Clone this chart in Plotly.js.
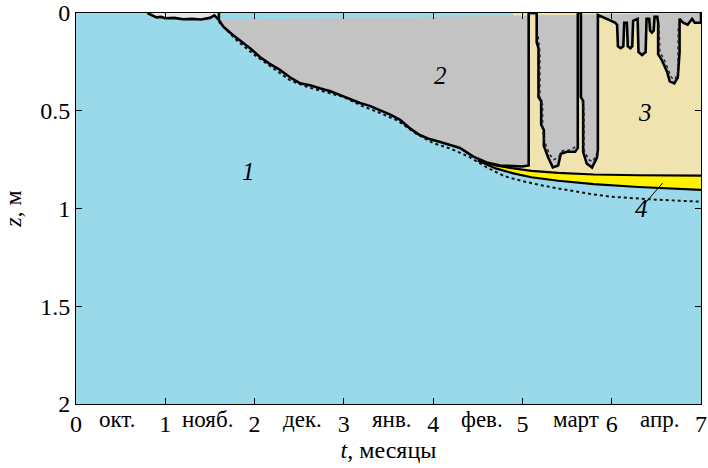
<!DOCTYPE html>
<html>
<head>
<meta charset="utf-8">
<script src="https://cdn.plot.ly/plotly-3.0.1.min.js"></script>
</head>
<body style="margin:0">
<div id="chart" style="width:708px;height:468px"></div>
<script>
// x tick labels (months since start) and month names
const xTickVals = [0, 1, 2, 3, 4, 5, 6, 7];
const yTickVals = [0, 0.5, 1, 1.5, 2];
const yTickText = ['0', '0.5', '1', '1.5', '2'];
const monthLabels = ['окт.', 'нояб.', 'дек.', 'янв.', 'фев.', 'март', 'апр.'];
const monthPos = [0.46, 1.47, 2.54, 3.54, 4.55, 5.6, 6.53];

// early thin ice strip near the surface: t (months), z (m)
const thinT = [0.8,0.85,0.9,0.95,1.0,1.1,1.2,1.3,1.4,1.5,1.55,1.6,1.6];
const thinZ = [0,0.012,0.022,0.02,0.027,0.025,0.032,0.03,0.033,0.025,0.012,0.035,0];

// region 2 (grey) outline: t (months), z (m)
const iceT = [1.6,1.65,1.75,1.84,1.95,2.06,2.17,2.28,2.4,2.51,2.62,2.73,2.85,2.96,3.07,3.18,3.29,3.4,3.52,3.63,3.74,3.85,3.96,4.08,4.19,4.3,4.45,4.6,4.75,4.9,5.0,5.07,5.07,5.16,
  5.16,5.18,5.18,5.21,5.21,5.24,5.24,5.29,5.34,5.4,5.43,5.5,5.59,5.62,5.62,5.655,
  5.655,5.68,5.68,5.72,5.78,5.835,5.845,5.845,
  5.9,5.97,6.04,6.06,6.07,6.1,6.13,6.14,6.17,6.18,6.21,6.23,6.24,6.29,6.3,6.34,6.38,6.39,6.42,6.43,6.45,6.47,6.48,6.51,
  6.52,6.52,6.56,6.62,6.65,6.7,6.74,6.76,6.76,6.8,6.85,6.9,6.93,7.0,7.0];
const iceZ = [0.035,0.07,0.11,0.14,0.18,0.225,0.26,0.29,0.33,0.36,0.37,0.385,0.4,0.42,0.44,0.46,0.475,0.495,0.52,0.547,0.59,0.624,0.645,0.66,0.675,0.69,0.735,0.765,0.78,0.785,0.785,0.78,0,0,
  0.15,0.18,0.43,0.45,0.57,0.6,0.68,0.74,0.79,0.78,0.72,0.71,0.71,0.69,0,0,
  0.43,0.45,0.71,0.77,0.79,0.74,0.7,0.01,
  0.02,0.035,0.05,0.06,0.17,0.18,0.17,0.05,0.05,0.17,0.18,0.17,0.04,0.03,0.2,0.215,0.2,0.03,0.03,0.09,0.1,0.09,0.02,0.02,
  0.05,0.21,0.24,0.3,0.35,0.36,0.33,0.2,0.03,0.05,0.06,0.03,0.05,0.05,0];

// dotted outlines inside the grey spikes
const spikeDot1T = [5.175,5.195,5.195,5.225,5.225,5.25,5.3,5.35,5.4,5.45,5.55,5.6];
const spikeDot1Z = [0.12,0.2,0.43,0.47,0.6,0.66,0.72,0.75,0.74,0.705,0.7,0.68];
const spikeDot2T = [5.67,5.69,5.69,5.74,5.79,5.83];
const spikeDot2Z = [0.45,0.5,0.7,0.75,0.76,0.72];
const spikeDot3T = [6.53,6.54,6.58,6.63,6.67,6.71,6.74,6.745];
const spikeDot3Z = [0.06,0.2,0.23,0.29,0.33,0.34,0.3,0.06];

// region 4 (yellow) boundaries
const yTopT = [4.5,4.7,4.9,5.1,5.4,5.8,6.3,7.0];
const yTopZ = [0.755,0.78,0.795,0.808,0.818,0.826,0.83,0.832];
const yBotT = [4.5,4.7,4.9,5.1,5.4,5.8,6.3,7.0];
const yBotZ = [0.755,0.795,0.82,0.84,0.858,0.875,0.89,0.905];

// dotted line (alternative ice bottom)
const dotT = [1.6,1.8,2.0,2.2,2.4,2.6,2.8,3.0,3.2,3.4,3.6,3.8,4.0,4.2,4.4,4.6,4.8,5.0,5.25,5.5,5.75,6.0,6.25,6.5,6.75,7.0];
const dotZ = [0.045,0.14,0.215,0.28,0.345,0.38,0.405,0.43,0.475,0.51,0.55,0.615,0.665,0.695,0.735,0.79,0.835,0.86,0.885,0.905,0.925,0.94,0.948,0.955,0.96,0.965];

// region labels
const regionLabels = ['1', '2', '3', '4'];
const regionT = [1.93, 4.08, 6.37, 6.33];
const regionZ = [0.81, 0.32, 0.51, 1.0];
const leaderT = [6.37, 6.57];
const leaderZ = [0.975, 0.87];

const BLUE = '#99D9EA', GREY = '#C3C3C3', TAN = '#EFE4B0', YEL = '#FFF200', LIGHT = '#E6E6E6';

// region 3 polygon: from top down to yellow top
const tanT = [4.7, 4.9, 7.0].concat(yTopT.slice(1).reverse());
const tanZ = [0.77, 0, 0].concat(yTopZ.slice(1).reverse());
// region 4 polygon
const yelT = yTopT.concat(yBotT.slice().reverse());
const yelZ = yTopZ.concat(yBotZ.slice().reverse());

const traces = [
  {x: tanT, y: tanZ, mode: 'lines', fill: 'toself', fillcolor: TAN, line: {width: 0}, hoverinfo: 'skip'},
  {x: yelT, y: yelZ, mode: 'lines', fill: 'toself', fillcolor: YEL, line: {width: 0}, hoverinfo: 'skip'},
  {x: dotT, y: dotZ, mode: 'lines', line: {color: '#111', width: 2, dash: 'dot'}, hoverinfo: 'skip'},
  {x: thinT, y: thinZ, mode: 'lines', fill: 'toself', fillcolor: LIGHT, line: {color: '#000', width: 2.6}, hoverinfo: 'skip'},
  {x: iceT, y: iceZ, mode: 'lines', fill: 'toself', fillcolor: GREY, line: {color: '#000', width: 2.6}, hoverinfo: 'skip'},
  {x: spikeDot1T, y: spikeDot1Z, mode: 'lines', line: {color: '#222', width: 1.6, dash: 'dot'}, hoverinfo: 'skip'},
  {x: spikeDot2T, y: spikeDot2Z, mode: 'lines', line: {color: '#222', width: 1.6, dash: 'dot'}, hoverinfo: 'skip'},
  {x: spikeDot3T, y: spikeDot3Z, mode: 'lines', line: {color: '#222', width: 1.4, dash: 'dot'}, hoverinfo: 'skip'},
  {x: yTopT, y: yTopZ, mode: 'lines', line: {color: '#000', width: 2.2}, hoverinfo: 'skip'},
  {x: yBotT, y: yBotZ, mode: 'lines', line: {color: '#000', width: 2.2}, hoverinfo: 'skip'},
  {x: leaderT, y: leaderZ, mode: 'lines', line: {color: '#000', width: 1}, hoverinfo: 'skip'}
];

const annotations = [];
monthLabels.forEach((m, i) => annotations.push({
  x: monthPos[i], y: 0, xref: 'x', yref: 'paper', text: m, showarrow: false,
  yanchor: 'middle', xanchor: 'center', yshift: -15, font: {family: 'Liberation Serif', size: 23, color: '#000000'}
}));
regionLabels.forEach((r, i) => annotations.push({
  x: regionT[i], y: regionZ[i], xref: 'x', yref: 'y', text: '<i>' + r + '</i>', showarrow: false,
  font: {family: 'Liberation Serif', size: 25, color: '#000000'}
}));

const layout = {
  width: 708, height: 468,
  margin: {l: 76, r: 7, t: 13, b: 64},
  paper_bgcolor: '#ffffff', plot_bgcolor: BLUE,
  showlegend: false,
  xaxis: {
    range: [0, 7], tickvals: xTickVals, ticktext: xTickVals.map(String),
    ticks: 'inside', ticklen: 6, tickcolor: '#000', tickwidth: 1,
    showline: true, linecolor: '#000', linewidth: 1, mirror: 'ticks',
    showgrid: false, zeroline: false,
    tickfont: {family: 'Liberation Serif', size: 24, color: '#000000'}, ticklabelstandoff: -2,
    title: {text: '<i>t</i>, месяцы', font: {family: 'Liberation Serif', size: 24, color: '#000000'}, standoff: 5}
  },
  yaxis: {
    range: [2, 0], tickvals: yTickVals, ticktext: yTickText,
    ticks: 'inside', ticklen: 6, tickcolor: '#000', tickwidth: 1,
    showline: true, linecolor: '#000', linewidth: 1, mirror: 'ticks',
    showgrid: false, zeroline: false,
    tickfont: {family: 'Liberation Serif', size: 24, color: '#000000'},
    title: {text: '<i>z</i>, м', font: {family: 'Liberation Serif', size: 24, color: '#000000'}, standoff: 12}
  },
  annotations: annotations
};

Plotly.newPlot('chart', traces, layout, {displayModeBar: false});
</script>
</body>
</html>
